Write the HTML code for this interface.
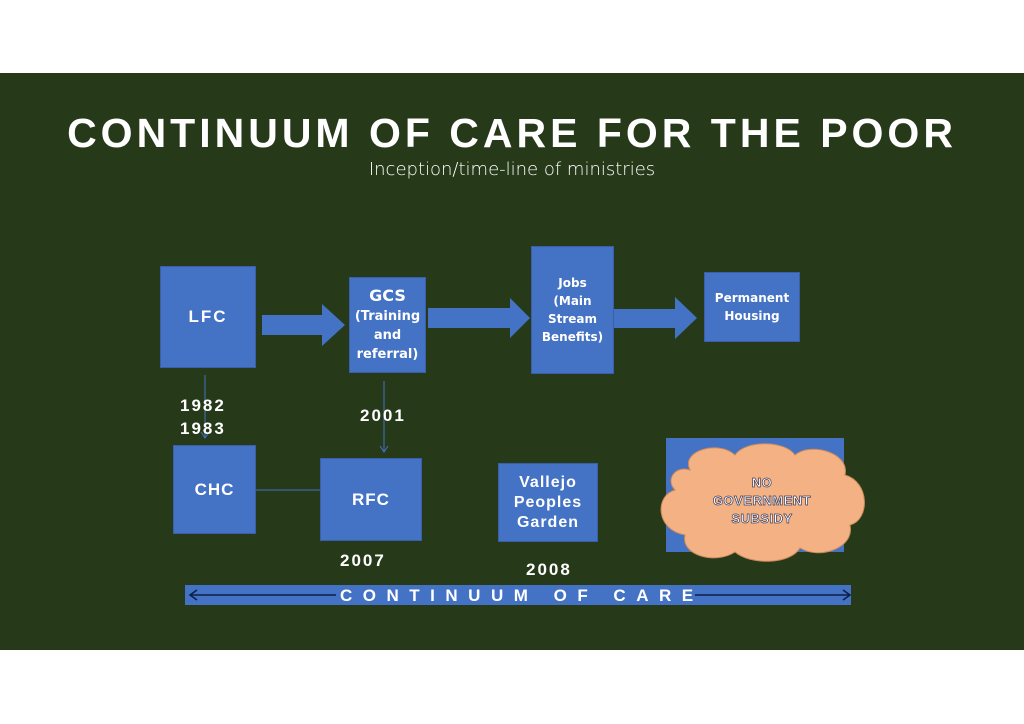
<!DOCTYPE html>
<html><head><style>
body{margin:0;width:1024px;height:724px;background:#fff;position:relative;overflow:hidden;font-family:"Liberation Sans",sans-serif}
.bg{position:absolute;left:0;top:73px;width:1024px;height:577px;background:#263a1a}
.b{position:absolute;background:#4472c4;border:1px solid #3a5fa8;color:#fff;display:flex;align-items:center;justify-content:center;text-align:center;font-weight:bold;box-sizing:border-box}
.t{position:absolute;color:#fff;font-weight:bold;letter-spacing:2px}
</style></head><body>
<div class="bg"></div>
<div class="t" style="left:0;width:1024px;text-align:center;top:110px;font-size:41px;letter-spacing:4px">CONTINUUM OF CARE FOR THE POOR</div>
<div style="position:absolute;left:0;width:1024px;text-align:center;top:159px;font-size:18px;color:#fff;font-family:'DejaVu Sans',sans-serif;font-weight:300">Inception/time-line of ministries</div>
<svg style="position:absolute;left:0;top:0" width="1024" height="724">
<polygon points="262,315 322,315 322,304 345,325 322,346 322,335 262,335" fill="#4472c4"/>
<polygon points="428,308 510,308 510,298 530,318 510,338 510,328 428,328" fill="#4472c4"/>
<polygon points="614,309 675,309 675,297 697,318 675,339 675,328 614,328" fill="#4472c4"/>
<g stroke="#4472c4" stroke-width="1" fill="none">
<line x1="205" y1="375" x2="205" y2="438"/><polyline points="201,432 205,438 209,432"/>
<line x1="384" y1="381" x2="384" y2="452"/><polyline points="380,446 384,452 388,446"/>
<line x1="256" y1="490" x2="320" y2="490"/>
</g>
<rect x="666" y="438" width="178" height="114" fill="#4472c4"/>
<path d="M690,470 C680,450 720,440 735,455 C745,440 785,440 795,455 C810,442 850,452 845,475 C870,482 870,520 850,525 C855,548 820,560 800,548 C790,565 750,565 735,552 C715,565 680,555 685,535 C655,530 655,495 675,490 C665,480 675,465 690,470 Z" fill="#f4b183" stroke="#c98a5a" stroke-width="1"/>
<rect x="185" y="585" width="666" height="20" fill="#4472c4"/>
<g stroke="#0c1f4a" fill="none" stroke-width="1.5">
<line x1="191" y1="595" x2="336" y2="595"/><polyline points="197,590 190,595 197,600"/>
<line x1="695" y1="595" x2="849" y2="595"/><polyline points="843,590 850,595 843,600"/>
</g>
</svg>
<div class="b" style="left:160px;top:266px;width:96px;height:102px;font-size:17px;letter-spacing:2px">LFC</div>
<div class="b" style="left:349px;top:277px;width:77px;height:96px;font-size:13px;line-height:19px;font-family:'DejaVu Sans',sans-serif"><span><span style="font-size:16px">GCS</span><br>(Training<br>and<br>referral)</span></div>
<div class="b" style="left:531px;top:246px;width:83px;height:128px;font-size:12px;line-height:18px;font-family:'DejaVu Sans',sans-serif">Jobs<br>(Main<br>Stream<br>Benefits)</div>
<div class="b" style="left:704px;top:272px;width:96px;height:70px;font-size:12px;line-height:18px;font-family:'DejaVu Sans',sans-serif">Permanent<br>Housing</div>
<div class="b" style="left:173px;top:445px;width:83px;height:89px;font-size:17px;letter-spacing:1px">CHC</div>
<div class="b" style="left:320px;top:458px;width:102px;height:83px;font-size:17px;letter-spacing:1px">RFC</div>
<div class="b" style="left:498px;top:463px;width:100px;height:79px;font-size:16px;line-height:20px;letter-spacing:1px">Vallejo<br>Peoples<br>Garden</div>
<div class="t" style="left:672px;width:180px;text-align:center;top:474px;font-size:13px;line-height:18px;letter-spacing:0.5px;color:#fff;-webkit-text-stroke:0.7px #3a3a5a">NO<br>GOVERNMENT<br>SUBSIDY</div>
<div class="t" style="left:180px;top:394px;font-size:17px;line-height:23px">1982<br>1983</div>
<div class="t" style="left:360px;top:406px;font-size:17px">2001</div>
<div class="t" style="left:340px;top:551px;font-size:17px">2007</div>
<div class="t" style="left:526px;top:560px;font-size:17px">2008</div>
<div class="t" style="left:340px;top:586px;font-size:17px;letter-spacing:10.5px;line-height:19px">CONTINUUM OF CARE</div>
</body></html>
